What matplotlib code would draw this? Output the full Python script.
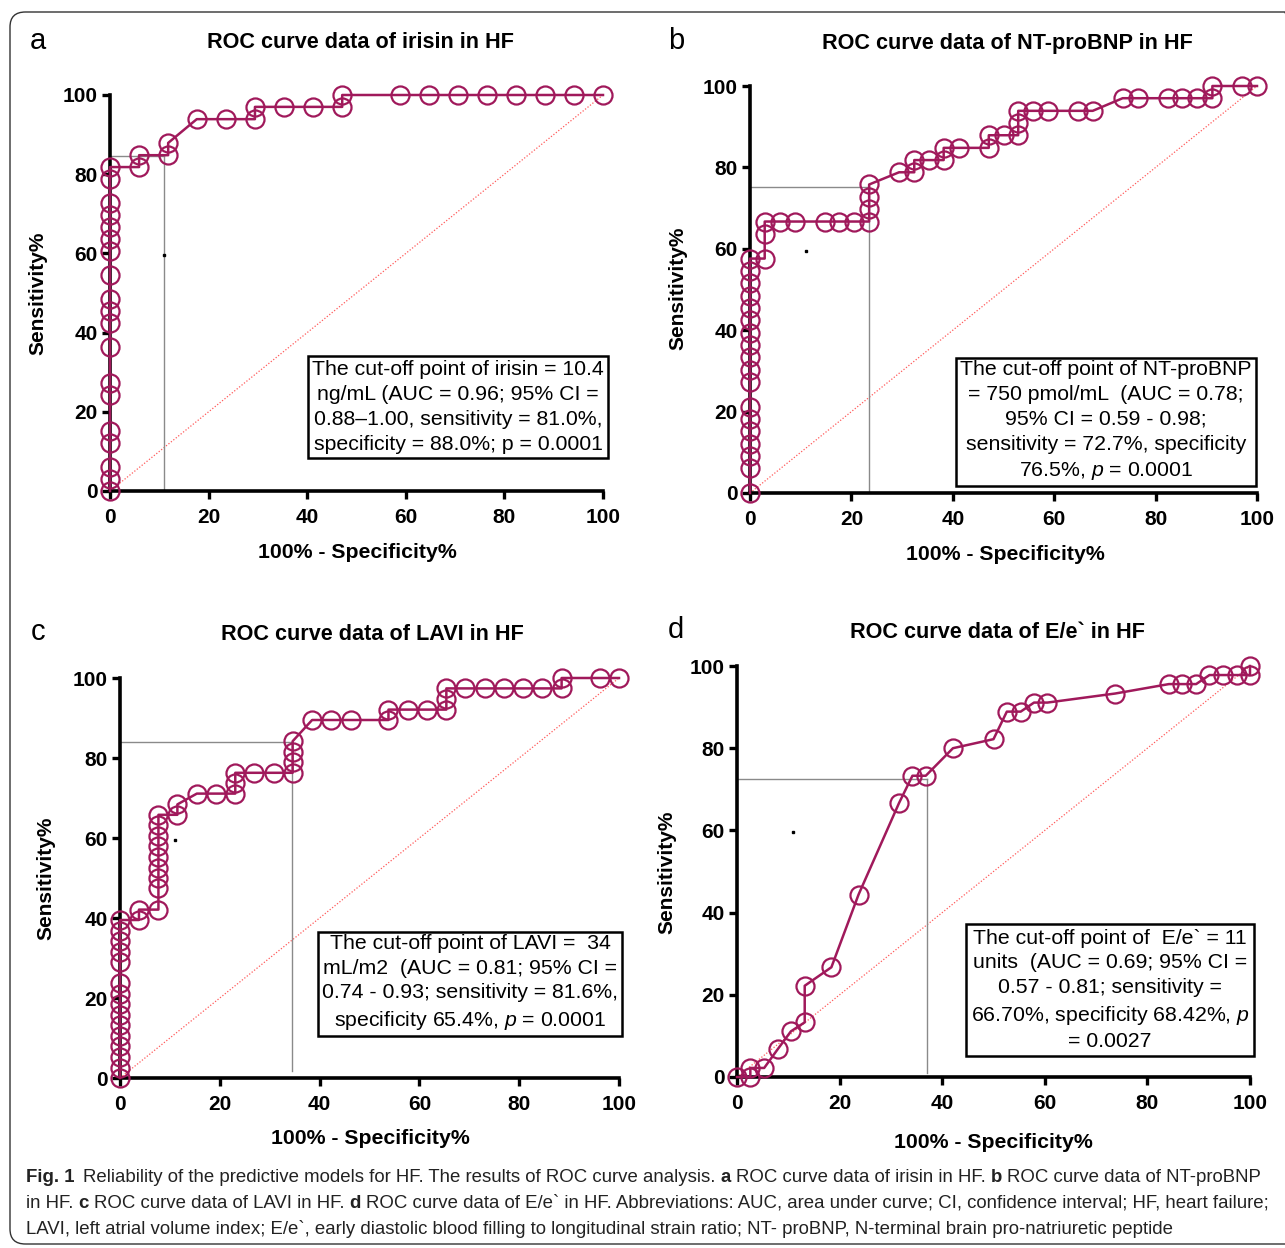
import matplotlib
matplotlib.use('Agg')
import matplotlib.pyplot as plt
from matplotlib.patches import FancyBboxPatch

plt.rcParams['font.family'] = ['Liberation Sans', 'DejaVu Sans']
plt.rcParams['mathtext.fontset'] = 'custom'
plt.rcParams['mathtext.rm'] = 'Liberation Sans'
plt.rcParams['mathtext.it'] = 'Liberation Sans:italic'

W, H = 1285, 1248
curve_color = '#a0195b'

# ---- data (100% - specificity, sensitivity) ----
irisin_fpr = [0] * 19 + [5.9, 5.9, 11.8, 11.8, 17.6, 23.5, 29.4, 29.4, 35.3, 41.2,
                         47.1, 47.1, 58.8, 64.7, 70.6, 76.5, 82.4, 88.2, 94.1, 100]
irisin_tpr = [0, 3.0, 6.1, 12.1, 15.2, 24.2, 27.3, 36.4, 42.4, 45.5, 48.5, 54.5,
              60.6, 63.6, 66.7, 69.7, 72.7, 78.8, 81.8,
              81.8, 84.8, 84.8, 87.9, 93.9, 93.9, 93.9, 97.0, 97.0, 97.0,
              97.0, 100, 100, 100, 100, 100, 100, 100, 100, 100]
irisin_cut = (11.0, 84.5)

bnp_fpr = [0] * 18 + [2.9, 2.9, 2.9, 5.9, 8.8, 14.7, 17.6, 20.6, 23.5, 23.5, 23.5, 23.5,
                      29.4, 32.4, 32.4, 35.3, 38.2, 38.2, 41.2, 47.1, 47.1, 50.0, 52.9,
                      52.9, 52.9, 55.9, 58.8, 64.7, 67.6, 73.5, 76.5, 82.4, 85.3, 88.2,
                      91.2, 91.2, 97.1, 100]
bnp_tpr = [0, 6.1, 9.1, 12.1, 15.2, 18.2, 21.2, 27.3, 30.3, 33.3, 36.4, 39.4, 42.4,
           45.5, 48.5, 51.5, 54.5, 57.6,
           57.6, 63.6, 66.7, 66.7, 66.7, 66.7, 66.7, 66.7, 66.7, 69.7, 72.7, 75.8,
           78.8, 78.8, 81.8, 81.8, 81.8, 84.8, 84.8, 84.8, 87.9, 87.9, 87.9,
           90.9, 93.9, 93.9, 93.9, 93.9, 93.9, 97.0, 97.0, 97.0, 97.0, 97.0,
           97.0, 100, 100, 100]
bnp_cut = (23.5, 75.2)

lavi_fpr = [0] * 15 + [3.8, 3.8, 7.7, 7.7, 7.7, 7.7, 7.7, 7.7, 7.7, 7.7, 7.7, 11.5, 11.5,
                       15.4, 19.2, 23.1, 23.1, 23.1, 26.9, 30.8, 34.6, 34.6, 34.6, 34.6,
                       38.5, 42.3, 46.2, 53.8, 53.8, 57.7, 61.5, 65.4, 65.4, 65.4, 69.2,
                       73.1, 76.9, 80.8, 84.6, 88.5, 88.5, 96.2, 100]
lavi_tpr = [0, 2.6, 5.3, 7.9, 10.5, 13.2, 15.8, 18.4, 21.1, 23.7, 28.9, 31.6, 34.2,
            36.8, 39.5,
            39.5, 42.1, 42.1, 47.4, 50.0, 52.6, 55.3, 57.9, 60.5, 63.2, 65.8, 65.8,
            68.4, 71.1, 71.1, 71.1, 73.7, 76.3, 76.3, 76.3, 76.3, 78.9, 81.6, 84.2,
            89.5, 89.5, 89.5, 89.5, 92.1, 92.1, 92.1, 92.1, 94.7, 97.4, 97.4, 97.4,
            97.4, 97.4, 97.4, 97.4, 100, 100, 100]
lavi_cut = (34.4, 83.9)

ee_fpr = [0, 2.6, 2.6, 5.3, 7.9, 10.5, 13.2, 13.2, 18.4, 23.7, 31.6, 34.2, 36.8, 42.1,
          50.0, 52.6, 55.3, 57.9, 60.5, 73.7, 84.2, 86.8, 89.5, 92.1, 94.7, 97.4, 100, 100]
ee_tpr = [0, 0, 2.2, 2.2, 6.7, 11.1, 13.3, 22.2, 26.7, 44.4, 66.7, 73.3, 73.3, 80.0,
          82.2, 88.9, 88.9, 91.1, 91.1, 93.3, 95.6, 95.6, 95.6, 97.8, 97.8, 97.8, 97.8, 100]
ee_cut = (37.0, 72.5)

stray_dot = (11, 59.5)
ticks = [0, 20, 40, 60, 80, 100]

titles = ['ROC curve data of irisin in HF', 'ROC curve data of NT-proBNP in HF',
          'ROC curve data of LAVI in HF', 'ROC curve data of E/e` in HF']
letters = ['a', 'b', 'c', 'd']
box_texts = [
    'The cut-off point of irisin = 10.4\nng/mL (AUC = 0.96; 95% CI =\n0.88\u20131.00, sensitivity = 81.0%,\nspecificity = 88.0%; p = 0.0001',
    'The cut-off point of NT-proBNP\n= 750 pmol/mL  (AUC = 0.78;\n95% CI = 0.59 - 0.98;\nsensitivity = 72.7%, specificity\n76.5%, $p$ = 0.0001',
    'The cut-off point of LAVI =  34\nmL/m2  (AUC = 0.81; 95% CI =\n0.74 - 0.93; sensitivity = 81.6%,\nspecificity 65.4%, $p$ = 0.0001',
    'The cut-off point of  E/e` = 11\nunits  (AUC = 0.69; 95% CI =\n0.57 - 0.81; sensitivity =\n66.70%, specificity 68.42%, $p$\n= 0.0027',
]

# ---- layout in pixels ----
axes_px = [(110, 603, 95, 491), (750, 1257, 86, 493), (120, 619, 678, 1078), (737, 1250, 666, 1077)]
title_px = [(360, 42), (1007, 43), (372, 634), (997, 633)]
letter_px = [(38, 41), (676, 41), (38, 632), (676, 630)]
ylab_px = [(38, 293), (678, 288), (46, 878), (667, 872)]
xlab_px = [(357, 553), (1005, 555), (370, 1138), (993, 1143)]
box_px = [(458, 407), (1106, 421), (470, 983), (1110, 990)]
vline_from = [0, 0, 1.7, 1.0]

fig = plt.figure(figsize=(W / 100, H / 100), dpi=100)


def fx(x):
    return x / W


def fy(y):
    return 1 - y / H


border = FancyBboxPatch((fx(10), fy(1244)), fx(1300) - fx(10), fy(12) - fy(1244),
                        boxstyle='round,pad=0,rounding_size=0.012', transform=fig.transFigure,
                        fc='none', ec='#333333', lw=1.0)
fig.patches.append(border)

series = [(irisin_fpr, irisin_tpr, irisin_cut), (bnp_fpr, bnp_tpr, bnp_cut),
          (lavi_fpr, lavi_tpr, lavi_cut), (ee_fpr, ee_tpr, ee_cut)]

for i, (fpr, tpr, cut) in enumerate(series):
    x0, x1, ytop, ybot = axes_px[i]
    ax = fig.add_axes([fx(x0), fy(ybot), (x1 - x0) / W, (ybot - ytop) / H])
    ax.set_xlim(0, 100)
    ax.set_ylim(0, 100)
    ax.plot([0, 100], [0, 100], color='#ff5a5a', lw=0.9, ls=(0, (1, 1.5)), zorder=1)
    ax.plot([0, cut[0]], [cut[1], cut[1]], color='#8a8a8a', lw=1.0, zorder=1)
    ax.plot([cut[0], cut[0]], [vline_from[i], cut[1]], color='#8a8a8a', lw=1.0, zorder=1)
    ax.plot([stray_dot[0]], [stray_dot[1]], marker='s', ms=1.6, color='black', ls='none')
    ax.plot(fpr, tpr, color=curve_color, lw=1.8, marker='o', ms=13, mfc='none',
            mec=curve_color, mew=1.6, clip_on=False, zorder=5)
    for s in ['top', 'right']:
        ax.spines[s].set_visible(False)
    for s in ['left', 'bottom']:
        ax.spines[s].set_linewidth(2.6)
    ax.set_xticks(ticks)
    ax.set_yticks(ticks)
    ax.tick_params(axis='both', direction='out', length=6, width=2.4, labelsize=15)
    ax.tick_params(axis='x', pad=6)
    ax.tick_params(axis='y', pad=3)
    for lab in ax.get_xticklabels() + ax.get_yticklabels():
        lab.set_fontweight('bold')

    fig.text(fx(title_px[i][0]), fy(title_px[i][1]), titles[i], ha='center', va='center',
             fontsize=15.6, fontweight='bold')
    fig.text(fx(letter_px[i][0]), fy(letter_px[i][1]), letters[i], ha='center', va='center',
             fontsize=21)
    fig.text(fx(ylab_px[i][0]), fy(ylab_px[i][1]), 'Sensitivity%', ha='center', va='center',
             rotation=90, fontsize=15, fontweight='bold')
    fig.text(fx(xlab_px[i][0]), fy(xlab_px[i][1]), '100% - Specificity%', ha='center',
             va='center', fontsize=15.3, fontweight='bold')
    fig.text(fx(box_px[i][0]), fy(box_px[i][1]), box_texts[i], ha='center', va='center',
             multialignment='center', fontsize=15.3, linespacing=1.38,
             bbox=dict(boxstyle='square,pad=0.2', fc='white', ec='black', lw=1.8), zorder=10)

# ---- caption with mixed bold / normal pieces ----
caption = [
    [('Fig. 1', True), ('Reliability of the predictive models for HF. The results of ROC curve analysis.', False),
     ('a', True), ('ROC curve data of irisin in HF.', False), ('b', True),
     ('ROC curve data of NT-proBNP', False)],
    [('in HF.', False), ('c', True), ('ROC curve data of LAVI in HF.', False), ('d', True),
     ('ROC curve data of E/e` in HF. Abbreviations: AUC, area under curve; CI, confidence interval; HF, heart failure;', False)],
    [('LAVI, left atrial volume index; E/e`, early diastolic blood filling to longitudinal strain ratio; NT- proBNP, N-terminal brain pro-natriuretic peptide', False)],
]
cap_y = [1177, 1203, 1229]
cap_family = ['Liberation Sans Narrow', 'Liberation Sans', 'DejaVu Sans']
renderer = fig.canvas.get_renderer()


def measure(s, size, bold):
    t = fig.text(0, 0, s, fontsize=size, fontweight='bold' if bold else 'normal', family=cap_family)
    w = t.get_window_extent(renderer).width
    t.remove()
    return w


def line_width(parts, size):
    gap = measure('x x', size, False) - measure('xx', size, False)
    total = sum(measure(s, size, b) for s, b in parts) + gap * (len(parts) - 1)
    return total, gap


base = 12.0
w0, _ = line_width(caption[0], base)
cap_size = base * (1262 - 26) / w0

for parts, yy in zip(caption, cap_y):
    _, gap = line_width(parts, cap_size)
    x = 26
    for j, (s, b) in enumerate(parts):
        t = fig.text(fx(x), fy(yy), s, fontsize=cap_size, fontweight='bold' if b else 'normal',
                     family=cap_family, ha='left', va='center', color='#222222')
        w = t.get_window_extent(renderer).width
        x += w + gap * (1.6 if (j == 0 and b) else 1.0)

fig.savefig('out.png', dpi=100)
